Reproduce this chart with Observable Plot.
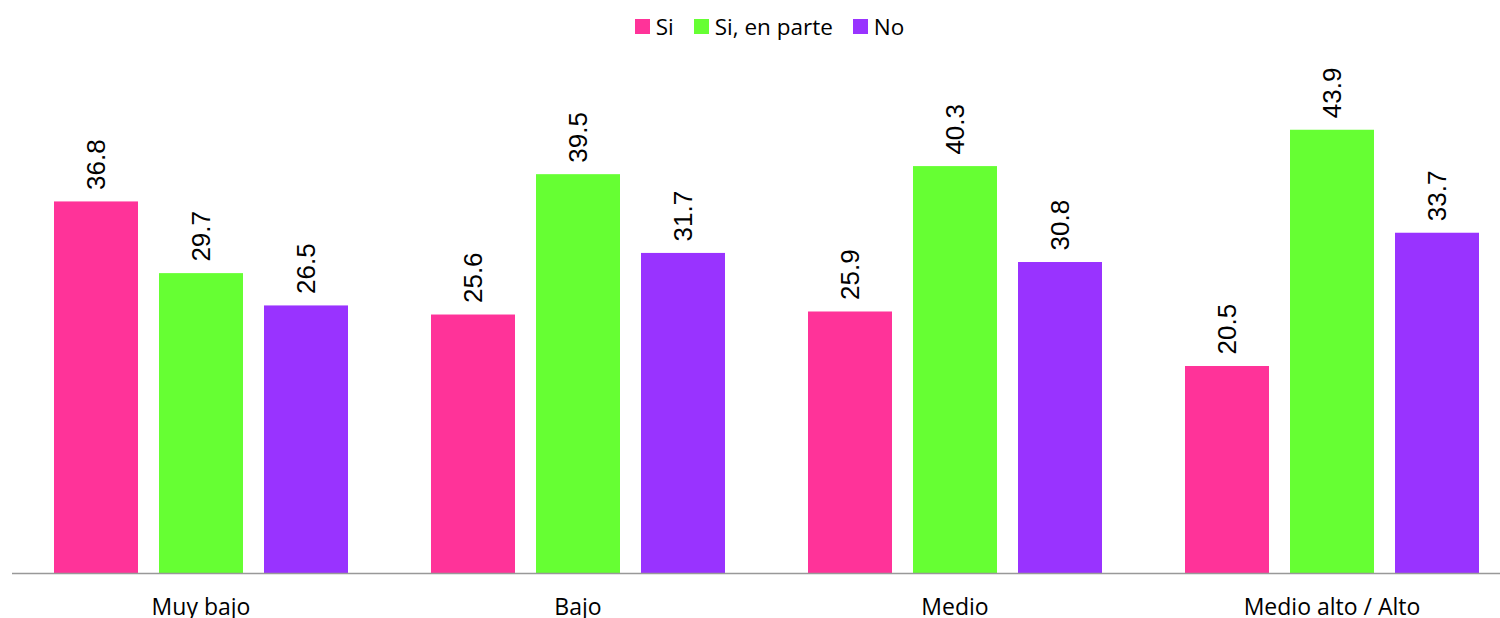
<!DOCTYPE html>
<html>
<head>
<meta charset="utf-8">
<script src="https://cdn.jsdelivr.net/npm/d3@7"></script>
<script src="https://cdn.jsdelivr.net/npm/@observablehq/plot@0.6"></script>
<style>
  html, body { margin: 0; padding: 0; background: #fff; }
  #legend { height: 52px; display: flex; justify-content: center; align-items: center; font-family: "Open Sans", sans-serif; font-size: 22.5px; color: #000; padding-left: 39px; box-sizing: border-box; }
  .item { display: flex; align-items: center; margin: 0 10px; }
  .sw { width: 15px; height: 15px; margin-right: 6px; }
  #chart svg { display: block; }
</style>
</head>
<body>
<div id="legend"></div>
<div id="chart"></div>
<script>
const categories = ["Muy bajo", "Bajo", "Medio", "Medio alto / Alto"];
const series = ["Si", "Si, en parte", "No"];
const siValues = [36.8, 25.6, 25.9, 20.5];
const enParteValues = [29.7, 39.5, 40.3, 43.9];
const noValues = [26.5, 31.7, 30.8, 33.7];
const colors = ["#FF3399", "#66FF33", "#9933FF"];

const seriesValues = [siValues, enParteValues, noValues];
const data = [];
categories.forEach((c, i) => {
  series.forEach((s, j) => {
    data.push({cat: c, series: s, value: seriesValues[j][i]});
  });
});

// legend
const legend = document.getElementById("legend");
series.forEach((s, j) => {
  const it = document.createElement("div");
  it.className = "item";
  const sw = document.createElement("span");
  sw.className = "sw";
  sw.style.background = colors[j];
  const t = document.createElement("span");
  t.textContent = s;
  it.appendChild(sw);
  it.appendChild(t);
  legend.appendChild(it);
});

const chart = Plot.plot({
  width: 1500,
  height: 566,
  marginTop: 0,
  marginBottom: 45,
  marginLeft: 0,
  marginRight: 0,
  style: {fontFamily: "'Open Sans', sans-serif", fontSize: "23px", color: "#000", background: "#fff"},
  fx: {domain: categories, range: [11.5, 1519.5], padding: 0, label: null, axis: "bottom", tickSize: 0, tickPadding: 25},
  x: {domain: series, paddingInner: 0.2, paddingOuter: 0.395, axis: null},
  y: {domain: [0, 51.6], axis: null},
  color: {domain: series, range: colors},
  marks: [
    Plot.barY(data, {fx: "cat", x: "series", y: "value", fill: "series"}),
    Plot.text(data, {fx: "cat", x: "series", y: "value", text: d => d.value.toFixed(1), rotate: -90, textAnchor: "start", dy: -12, fontSize: 26, fontFamily: "'Liberation Sans', Arial, sans-serif", fill: "#000"}),
    Plot.ruleY([0], {stroke: "#999", strokeWidth: 1.5})
  ]
});
document.getElementById("chart").appendChild(chart);
</script>
</body>
</html>
